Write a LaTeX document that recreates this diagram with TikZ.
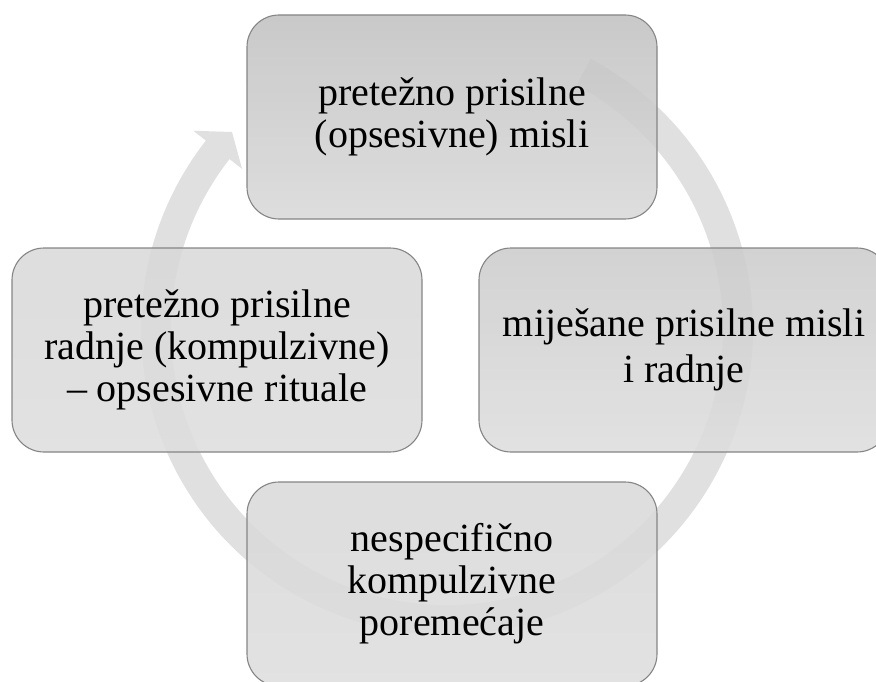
\documentclass[tikz,border=0pt]{standalone}
\usepackage{fontspec}
\setmainfont{Liberation Serif}
\definecolor{arccol}{HTML}{E0E0E0}
\definecolor{boxline}{HTML}{858585}
\tikzset{
  cyclebox/.style={draw=boxline, line width=1.1pt, rounded corners=32pt,
    minimum width=410pt, minimum height=204pt, inner sep=0pt,
    fill opacity=0.88, text opacity=1, align=center,
    font=\fontsize{40}{42}\selectfont},
  boxA/.style={cyclebox, top color=black!24, bottom color=black!15},
  boxB/.style={cyclebox, top color=black!20, bottom color=black!13},
  boxC/.style={cyclebox, top color=black!15, bottom color=black!13},
}
\begin{document}
\begin{tikzpicture}[x=1pt,y=1pt]
\useasboundingbox (0,0) rectangle (876,-682);
\clip (0,0) rectangle (876,-682);
% circular arrow
\begin{scope}[shift={(447,-329)}]
  \coordinate (tip) at (232-447,-132+329);
  \fill[arccol] (62:306pt) arc[start angle=62, end angle=-218, radius=306pt]
     -- (-218:322pt) -- (tip) -- (-218:260pt) -- (-218:276pt)
     arc[start angle=-218, end angle=62, radius=276pt] -- cycle;
\end{scope}
% boxes
\node[boxA] (top) at (452,-117) {prete\v{z}no prisilne\\(opsesivne) misli};
\node[boxB, font=\fontsize{40}{46}\selectfont] (right) at (684,-350) {\raisebox{-6pt}{}mije\v{s}ane prisilne misli\\i radnje};
\node[boxC] (bottom) at (452,-584) {nespecifi\v{c}no\\kompulzivne\\poreme\'{c}aje};
\node[boxC] (left) at (217,-350) {prete\v{z}no prisilne\\radnje (kompulzivne)\\– opsesivne rituale};
\end{tikzpicture}
\end{document}
